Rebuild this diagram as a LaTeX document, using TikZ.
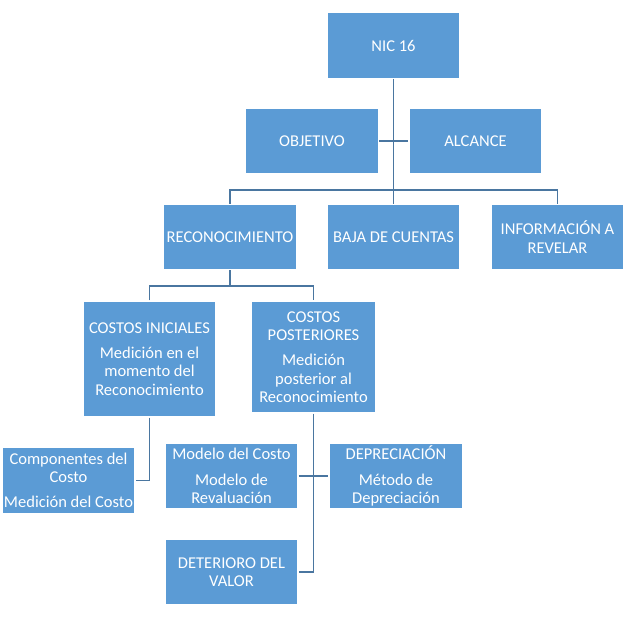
\documentclass[tikz,border=0pt]{standalone}
\usepackage{fontspec}
\setmainfont{Carlito}
\usepackage{xcolor}
\usepackage{tikz}
\usetikzlibrary{positioning}
\definecolor{azulcaja}{HTML}{5B9BD5}
\definecolor{azullinea}{HTML}{4A76A0}

\tikzset{
  caja/.style={fill=azulcaja, draw=white, line width=0.6pt, text=white,
    align=center, inner sep=1pt, minimum width=2.66cm, minimum height=1.31cm,
    font=\fontsize{9.4}{10.4}\selectfont},
  linea/.style={azullinea, line width=0.7pt}
}

\begin{document}
\begin{tikzpicture}
  \useasboundingbox (0,0) rectangle (12.74,12.4);
  % nivel superior
  \node[caja] (nic) at (7.87,11.49) {NIC 16};
  \node[caja] (obj) at (6.24,9.58) {OBJETIVO};
  \node[caja] (alc) at (9.51,9.58) {ALCANCE};
  % segundo nivel
  \node[caja] (rec) at (4.60,7.66) {RECONOCIMIENTO};
  \node[caja] (baja) at (7.87,7.66) {BAJA DE CUENTAS};
  \node[caja] (info) at (11.15,7.66) {INFORMACIÓN A\\REVELAR};
  % costos
  \node[caja, minimum height=2.32cm] (ini) at (2.99,5.22)
    {COSTOS INICIALES\\[4pt]Medición en el\\momento del\\Reconocimiento};
  \node[caja, minimum width=2.50cm, minimum height=2.24cm] (post) at (6.27,5.26)
    {COSTOS\\POSTERIORES\\[4pt]Medición\\posterior al\\Reconocimiento};
  % hojas
  \node[caja] (comp) at (1.37,2.79) {Componentes del\\Costo\\[4pt]Medición del Costo};
  \node[caja] (mod) at (4.63,2.88) {Modelo del Costo\\[4pt]Modelo de\\Revaluación};
  \node[caja, minimum width=2.68cm] (dep) at (7.92,2.88) {DEPRECIACIÓN\\[4pt]Método de\\Depreciación};
  \node[caja] (det) at (4.63,0.96) {DETERIORO DEL\\VALOR};

  \coordinate (barra) at (7.87,8.60);
  \coordinate (rama) at (4.60,6.68);

  \draw[linea] (nic) -- (baja);
  \draw[linea] (obj) -- (alc);
  \draw[linea] (rec.north) |- (barra) -| (info.north);
  \draw[linea] (rec) -- (rama);
  \draw[linea] (ini.north) |- (rama) -| (post.north);
  \draw[linea] (ini.south) |- (comp.east);
  \draw[linea] (post.south) |- (det.east);
  \draw[linea] (mod) -- (dep);
\end{tikzpicture}
\end{document}
